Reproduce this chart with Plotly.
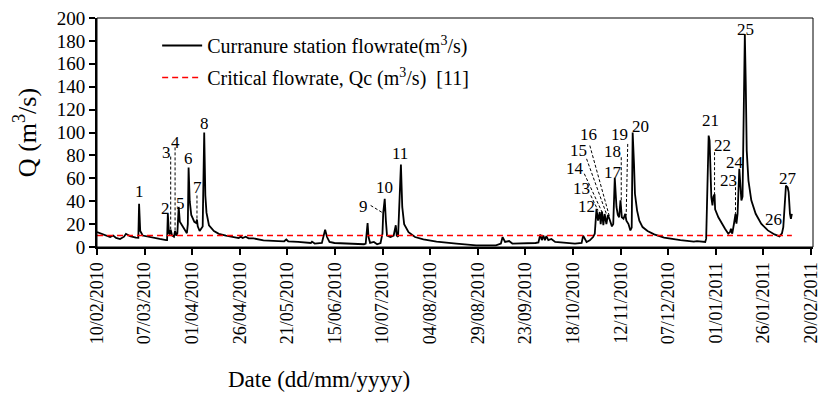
import pandas as pd
import plotly.graph_objects as go

START = pd.Timestamp("2010-02-10")
SERIF = "Liberation Serif, Times New Roman, serif"

# Curranure station record: days elapsed since 10/02/2010 and flow (m3/s)
day = [0, 3.3, 6.9, 8.5, 10.0, 12.1, 14.2, 15.2, 17.3, 20.4, 21.7, 22.1, 22.7, 24.0,
       27.7, 32.9, 36.3, 36.8, 37.2, 37.8, 38.3, 38.7, 39.4, 40.4, 41.0, 41.6, 42.2,
       42.9, 43.5, 44.6, 45.9, 47.2, 47.7, 48.1, 48.7, 49.5, 51.1, 52.1, 52.5, 52.9,
       53.9, 55.5, 56.3, 56.9, 57.5, 58.8, 61.4, 64.0, 67.7, 71.8, 74.4, 75.5, 76.5,
       78.1, 79.6, 82.2, 87.4, 95.2, 98.3, 99.4, 100.4, 105.6, 112.3, 112.9, 114.3,
       118.1, 119.8, 120.8, 122.1, 124.7, 131.6, 140.2, 141.1, 142.1, 142.6, 143.4,
       145.4, 147.1, 148.9, 149.9, 150.3, 151.1, 151.7, 152.3, 154.1, 155.8, 156.9,
       157.4, 158.1, 158.6, 159.6, 160.3, 161.3, 163.6, 167.0, 171.4, 178.3, 188.7,
       199.1, 209.5, 212.1, 213.0, 214.3, 216.4, 218.1, 230.3, 231.8, 232.8, 233.6,
       234.4, 235.2, 236.0, 237.0, 238.6, 240.6, 251.0, 254.5, 255.3, 256.2, 257.1,
       258.8, 260.5, 261.4, 262.3, 263.1, 264.0, 264.5, 265.2, 265.9, 266.6, 267.5,
       268.3, 269.2, 270.4, 271.1, 271.9, 272.8, 273.5, 274.2, 274.9, 275.6, 276.5,
       277.4, 278.0, 279.1, 280.1, 280.8, 281.3, 282.0, 282.5, 283.6, 284.8, 286.5,
       289.1, 292.6, 297.8, 306.4, 313.4, 315.1, 319.4, 319.9, 320.6, 321.2, 321.7,
       322.0, 322.6, 323.2, 323.7, 324.3, 324.6, 326.3, 328.1, 329.8, 331.5, 332.4,
       332.9, 333.6, 334.5, 335.3, 335.8, 336.4, 337.3, 337.9, 338.4, 339.0, 339.7,
       340.2, 340.7, 341.2, 342.1, 343.6, 345.9, 348.8, 352.3, 355.8, 358.4, 359.7,
       360.4, 361.1, 361.8, 362.7, 363.2, 363.9, 364.4, 364.9]
flow = [13, 11, 8.7, 10, 8, 7, 9, 11.5, 9.5, 8.2, 8, 37.8, 14, 10,
        8.5, 7, 6, 6, 29, 12, 11, 15, 10, 9, 14, 10, 12,
        35, 22, 19, 16, 12, 20, 69.5, 40, 28, 22, 21, 24, 18,
        14, 18, 100, 45, 30, 19, 14, 11.5, 10, 8.5, 7.8, 9, 7.8,
        9, 7.6, 7.5, 5.8, 5.2, 5, 6.5, 5, 4.4, 3.5, 4.7, 3,
        3.5, 15, 8.7, 4.4, 3.5, 3, 2.4, 3, 21, 8.7, 3.5,
        4.4, 2.4, 3.5, 11.6, 29.6, 42, 23, 10, 8.7, 10, 19,
        10, 9, 29, 72, 35, 20, 13, 8.7, 6.7, 4.7, 3,
        1.5, 1.5, 3, 8.7, 4.4, 5.2, 3, 3.5, 4, 11, 6,
        10, 6, 9.5, 6, 7, 4.4, 3, 3.5, 9.9, 6.4, 4.4,
        5.8, 8.7, 11.6, 33.4, 23, 30.6, 20, 31, 19, 28.8, 20,
        28, 24, 18, 20, 60.4, 35, 28, 26, 40.7, 26, 24.7,
        29, 23, 20, 14.5, 17, 100, 72.6, 46.5, 32, 23, 17.4,
        14, 11, 8.2, 6.1, 4.7, 5.2, 4.4, 7.3, 64, 97.3, 93,
        64, 43.6, 36.3, 44, 46, 33, 26, 20.3, 16, 11.6, 13,
        16, 11.6, 20.3, 29, 20.3, 29, 68.3, 52, 40.7, 44, 128,
        186, 142, 84, 58, 40.7, 29, 20.3, 14.5, 11, 9.3, 12,
        17.4, 40, 53.7, 52, 48, 29, 24.7, 29]

# Critical flowrate threshold Qc (m3/s) over the record
critical_q = 10
record_days = [0, 364.9]

# Numbered flow events: label centre (day, m3/s)
peak_id = list(range(1, 28))
label_day = [22.1, 35.8, 36.4, 41.2, 43.8, 48.1, 52.8, 56.3, 140.2, 150.9, 158.9,
             257.1, 254.5, 251.0, 252.7, 257.9, 270.9, 270.9, 274.4, 285.3, 322.0,
             328.6, 331.5, 335.0, 340.5, 355.3, 362.7]
label_q = [48.8, 33.4, 82.8, 91.5, 38.3, 77, 52.3, 108, 35.5, 52.3, 81.9,
           35.8, 51.2, 68.3, 84.0, 98.0, 65.3, 83.2, 98.0, 105, 110.4,
           88.6, 58.1, 74, 190.2, 23.9, 59.6]

# Dashed leaders linking crowded labels to their events
leader_id = [3, 4, 7, 9, 13, 14, 15, 16, 18, 19, 22, 23]
leader_day0 = [38.7, 41.0, 52.5, 143.7, 259.3, 255.9, 257.1, 258.8, 275.3, 278.7, 324.3, 335.3]
leader_q0 = [79, 87, 45, 36.3, 45, 64, 77, 88.6, 78.4, 90, 82.8, 56.6]
leader_day1 = [38.7, 41.0, 52.5, 150.3, 263.1, 265.2, 267.5, 269.2, 275.3, 277.9, 324.3, 335.3]
leader_q1 = [14, 12, 21.8, 29.6, 32, 30.5, 29, 26, 40.7, 27.6, 45, 29]


def to_date(d):
    return START + pd.to_timedelta(d, unit="D")


dates = [to_date(d) for d in day]

fig = go.Figure()
fig.add_trace(go.Scatter(
    x=dates, y=flow, mode="lines",
    line=dict(color="black", width=1.8),
    name="Curranure station flowrate(m<sup>3</sup>/s)",
    legendgroup="a",
))
fig.add_trace(go.Scatter(
    x=[to_date(d) for d in record_days], y=[critical_q] * len(record_days), mode="lines",
    line=dict(color="#ff0000", width=1.5, dash="6px,4px"),
    name="Critical flowrate, Qc (m<sup>3</sup>/s) \u00a0[11]",
    legendgroup="b",
))

for pid, d, q in zip(peak_id, label_day, label_q):
    fig.add_annotation(x=to_date(d), y=q, text=str(pid), showarrow=False,
                       xanchor="center", yanchor="middle", height=15, borderpad=0,
                       font=dict(family=SERIF, size=17, color="black"))

for d0, q0, d1, q1 in zip(leader_day0, leader_q0, leader_day1, leader_q1):
    fig.add_shape(type="line", x0=to_date(d0), y0=q0, x1=to_date(d1), y1=q1,
                  xref="x", yref="y", line=dict(color="black", width=1, dash="3px,2px"))

# thin frame on top and right of the plot area
fig.add_shape(type="rect", xref="paper", yref="paper", x0=0, y0=0, x1=1, y1=1,
              line=dict(color="black", width=1), layer="above")

fig.add_annotation(text="Date (dd/mm/yyyy)", xref="paper", yref="paper",
                   x=0.31, y=-0.578, showarrow=False, xanchor="center", yanchor="middle",
                   font=dict(family=SERIF, size=23, color="black"))

tick_dates = pd.date_range(START, periods=16, freq="25D")

fig.update_layout(
    width=829, height=403,
    margin=dict(l=97, r=8, t=17, b=156),
    paper_bgcolor="white", plot_bgcolor="white",
    font=dict(family=SERIF, color="black", size=17),
    showlegend=True,
    legend=dict(x=0.084, y=0.965, xanchor="left", yanchor="top",
                bgcolor="rgba(0,0,0,0)", traceorder="grouped", tracegroupgap=3,
                itemwidth=40,
                font=dict(family=SERIF, size=20, color="black")),
    xaxis=dict(
        type="date", range=[START, to_date(376)],
        tickmode="array", tickvals=tick_dates, ticktext=[t.strftime("%d/%m/%Y") for t in tick_dates],
        tickangle=-90, ticks="outside", ticklen=6, tickwidth=1.5, tickcolor="black",
        showline=True, linecolor="black", linewidth=2, showgrid=False, zeroline=False,
        tickfont=dict(family=SERIF, size=18, color="black"),
    ),
    yaxis=dict(
        range=[0, 200], dtick=20, ticks="outside", ticklen=6, tickwidth=1.5, tickcolor="black",
        showline=True, linecolor="black", linewidth=2, showgrid=False, zeroline=False,
        tickfont=dict(family=SERIF, size=19, color="black"),
        title=dict(text="Q (m<sup>3</sup>/s)", font=dict(family=SERIF, size=26, color="black"),
                   standoff=13),
    ),
)

fig.write_html("out.html")
